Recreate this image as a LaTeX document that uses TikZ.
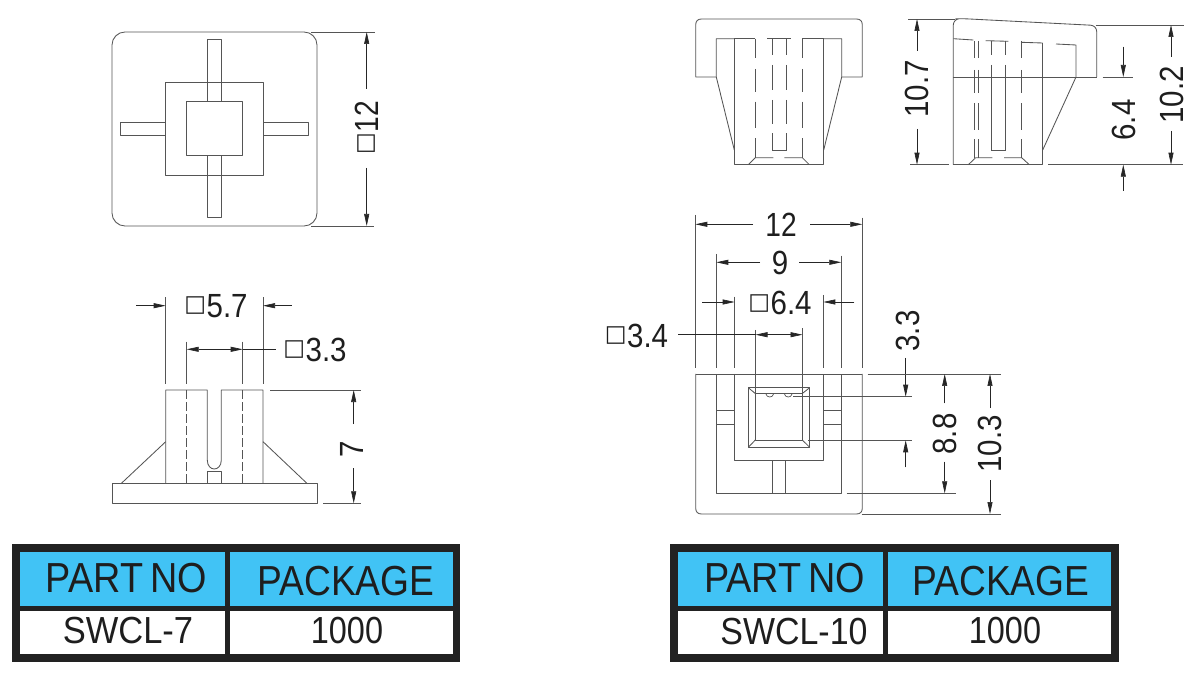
\documentclass[tikz,border=0pt]{standalone}
\usepackage{fontspec}
\usepackage{graphicx}
\usetikzlibrary{arrows.meta}
\setmainfont{Liberation Sans}
\newfontfamily\sqfont{DejaVu Sans}
\definecolor{partline}{HTML}{555555}
\definecolor{cellblue}{HTML}{41C3F5}
\definecolor{frameblk}{HTML}{222222}
\definecolor{inktext}{HTML}{1E1E1E}
\newcommand{\nar}[2]{\scalebox{#1}[1]{#2}}
\newcommand{\sqbox}{\raisebox{5.5pt}{\sqfont\fontsize{23}{23}\selectfont □}\kern 0.5pt}
\newcommand{\dimfs}{\fontsize{33.5}{34}\selectfont}
\newcommand{\hdfs}{\fontsize{42}{42}\selectfont}
\newcommand{\cellfs}{\fontsize{37.7}{38}\selectfont}
\tikzset{
  part/.style={draw=partline,line width=0.85pt,line join=round},
  thin part/.style={draw=partline,line width=0.7pt},
  dsh/.style={draw=partline,line width=0.8pt},
  ext/.style={draw=partline,line width=0.75pt},
  dimln/.style={draw=black!85,line width=0.65pt},
  dimar/.style={draw=black!85,line width=0.65pt,-{Stealth[length=12pt,width=5pt,inset=0pt]}},
  dimtxt/.style={text=inktext,inner sep=0pt,font=\dimfs},
  hdtxt/.style={text=inktext,inner sep=0pt,font=\hdfs},
  celltxt/.style={text=inktext,inner sep=0pt,font=\cellfs},
  frame/.style={fill=frameblk,draw=none},
  hdcell/.style={fill=cellblue,draw=none},
  wcell/.style={fill=white,draw=none}
}
\begin{document}
\begin{tikzpicture}[x=1pt,y=-1pt]
\useasboundingbox (0,0) rectangle (1200,676);
\fill[white] (0,0) rectangle (1200,676);

% ---------- Top view left
\draw[part,rounded corners=13pt] (112,32) rectangle (317,226);
\draw[part] (165.7,82.3) rectangle (263,175);
\draw[part] (186.7,101.7) rectangle (242.7,155.3);
\draw[part] (207.3,101.7) -- (207.3,39.7) -- (221.3,39.7) -- (221.3,101.7);
\draw[part] (207.3,155.3) -- (207.3,217.7) -- (221.3,217.7) -- (221.3,155.3);
\draw[part] (165.7,122.3) -- (120.3,122.3) -- (120.3,135.3) -- (165.7,135.3);
\draw[part] (263,122.3) -- (308,122.3) -- (308,135.3) -- (263,135.3);
\draw[ext] (311,32) -- (375,32);
\draw[ext] (311,226) -- (374,226);
\draw[dimar] (366.7,88.7) -- (366.7,32);
\draw[dimar] (366.7,168) -- (366.7,226);
\node[dimtxt,rotate=90] (dimA) at (366.5,127.5) {\sqbox\nar{0.84}{12}};

% ---------- Front view left
\draw[part] (112,483.7) rectangle (317,503.3);
\draw[part] (165.7,483.7) -- (165.7,390) -- (207.3,390) -- (207.3,460)
  .. controls (207.3,472) and (221.3,472) .. (221.3,460) -- (221.3,390) -- (263,390) -- (263,483.7);
\draw[part] (207.3,483.7) -- (207.3,471.3) -- (221.3,471.3) -- (221.3,483.7);
\draw[part] (165.7,441.7) -- (121,483.7);
\draw[part] (263,441.7) -- (307.3,483.7);
\draw[dsh,dash pattern=on 9pt off 3pt] (186.7,390) -- (186.7,483.7);
\draw[dsh,dash pattern=on 9pt off 3pt] (242.7,390) -- (242.7,483.7);
\draw[ext] (165.7,297.3) -- (165.7,384);
\draw[ext] (263,297.3) -- (263,384);
\draw[ext] (186.7,341.7) -- (186.7,384);
\draw[ext] (242.7,341.7) -- (242.7,384);
\draw[dimar] (136,305.7) -- (165.7,305.7);
\draw[dimar] (291.7,305.7) -- (263,305.7);
\node[dimtxt] (dimB) at (216,306) {\sqbox\nar{0.88}{5.7}};
\draw[dimln] (242.7,349.3) -- (276,349.3);
\draw[dimar] (215,349.3) -- (186.7,349.3);
\draw[dimar] (215,349.3) -- (242.7,349.3);
\node[dimtxt] (dimC) at (315,349.5) {\sqbox\nar{0.88}{3.3}};
\draw[ext] (270,390) -- (360.7,390);
\draw[ext] (323,503.3) -- (360.7,503.3);
\draw[dimar] (353.7,424) -- (353.7,390);
\draw[dimar] (353.7,468) -- (353.7,503.3);
\node[dimtxt,rotate=90] (dimD) at (352,449) {\nar{0.88}{7}};

% ---------- Front view right (top)
\draw[part] (716.3,77) -- (695.7,77) -- (695.7,25)
  .. controls (695.7,21) and (697.7,19) .. (701.7,19) -- (856.3,19)
  .. controls (860.3,19) and (862.3,21) .. (862.3,25) -- (862.3,77) -- (841.7,77);
\draw[part] (734.3,38.7) -- (716.3,38.7) -- (716.3,77) -- (734.3,150);
\draw[part] (823.7,38.7) -- (841.7,38.7) -- (841.7,77) -- (823.7,150);
\draw[part] (734.3,38.7) -- (755.3,38.7);
\draw[part] (802.3,38.7) -- (823.7,38.7);
\draw[part] (734.3,38.7) -- (734.3,164.7) -- (823.7,164.7) -- (823.7,38.7);
\draw[part] (767.3,38.7) -- (790.7,38.7);
\foreach \xx in {755.3,802.3}{
  \foreach \ya/\yb in {38.7/58.3,69/92.3,101.7/128.3,138.3/157.7}
    \draw[dsh] (\xx,\ya) -- (\xx,\yb);
}
\foreach \xx in {772,786}{
  \foreach \ya/\yb in {38.7/55,65/90,100/124,133.3/150.7}
    \draw[dsh] (\xx,\ya) -- (\xx,\yb);
}
\draw[part] (772,150.7) -- (786,150.7);
\draw[part] (748.3,164.7) -- (755.3,157.7) -- (773.3,157.7);
\draw[part] (784.3,157.7) -- (802.3,157.7) -- (809.3,164.7);
\draw[ext] (908.3,19) -- (955,19);
\draw[ext] (910,164.7) -- (949,164.7);
\draw[dimar] (917,51) -- (917,19);
\draw[dimar] (917,129) -- (917,164.7);
\node[dimtxt,rotate=90] (dimE) at (917,89) {\nar{0.88}{10.7}};

% ---------- Side view right (top)
\draw[part,rounded corners=6pt] (953.3,164.7) -- (953.3,19) -- (961.7,18.6) -- (1096.7,25.5) -- (1096.7,77);
\draw[part] (953.3,77) -- (1096.7,77);
\draw[part] (953.3,164.7) -- (1042.7,164.7) -- (1042.7,43);
\draw[part] (1042.7,150) -- (1076,77) -- (1076,45) -- (1056,44);
\draw[part] (953.3,38.7) -- (973.3,40);
\draw[part] (985.7,40.7) -- (1008.3,41.3);
\draw[part] (1021,42.3) -- (1042.7,43);
\foreach \xx in {974,978.3,1021.7}{
  \foreach \ya/\yb in {41/58.3,70/93.3,103.3/130,139.3/157.7}
    \draw[dsh] (\xx,\ya) -- (\xx,\yb);
}
\foreach \xx in {991,1005.3}{
  \draw[dsh] (\xx,40.7) -- (\xx,55);
  \draw[dsh] (\xx,65) -- (\xx,150.7);
}
\draw[part] (991,150.7) -- (1005.3,150.7);
\draw[part] (968.3,164.7) -- (975.7,157.7) -- (992.3,157.7);
\draw[part] (1004,157.7) -- (1021.7,157.7) -- (1029.3,164.7);
\draw[ext] (1095.7,25) -- (1184,25);
\draw[ext] (1048.3,164.7) -- (1183.3,164.7);
\draw[dimar] (1171,56.7) -- (1171,25);
\draw[dimar] (1171,131) -- (1171,164.7);
\node[dimtxt,rotate=90] (dimF) at (1171.7,95) {\nar{0.88}{10.2}};
\draw[ext] (1102.7,77) -- (1132.7,77);
\draw[dimar] (1123.3,46.7) -- (1123.3,77);
\draw[dimar] (1123.3,191) -- (1123.3,164.7);
\node[dimtxt,rotate=90] (dimG) at (1124,120) {\nar{0.88}{6.4}};

% ---------- Bottom view right
\draw[part] (695.7,374) -- (695.7,508)
  .. controls (695.7,512) and (697.7,514) .. (701.7,514) -- (856.3,514)
  .. controls (860.3,514) and (862.3,512) .. (862.3,508) -- (862.3,374);
\draw[part] (695.7,374) -- (862.3,374);
\draw[part] (716.3,374) -- (716.3,493.3) -- (841.7,493.3) -- (841.7,374);
\draw[part] (734.3,374) -- (734.3,460.3) -- (823.7,460.3) -- (823.7,374);
\draw[part] (716.3,410.7) -- (734.3,410.7);
\draw[part] (716.3,424) -- (734.3,424);
\draw[part] (823.7,410.7) -- (841.7,410.7);
\draw[part] (823.7,424) -- (841.7,424);
\draw[part] (772,460.3) -- (772,493.3);
\draw[part] (785.7,460.3) -- (785.7,493.3);
\draw[part] (748.3,387.7) rectangle (809.7,447.3);
\draw[part] (755.3,393.5) rectangle (802.3,440);
\draw[part] (748.3,387.7) -- (755.3,393.5);
\draw[part] (809.7,387.7) -- (802.3,393.5);
\draw[part] (748.3,447.3) -- (755.3,440);
\draw[part] (809.7,447.3) -- (802.3,440);
\draw[thin part] (766,394) .. controls (766.5,398) and (773,398) .. (773.5,394);
\draw[thin part] (784.5,394) .. controls (785,398) and (791.5,398) .. (792,394);
% extension lines of the upper dimensions
\draw[ext] (695.3,215) -- (695.3,368);
\draw[ext] (862.3,217.7) -- (862.3,368);
\draw[ext] (716.3,254) -- (716.3,368);
\draw[ext] (841.3,255.7) -- (841.3,368);
\draw[ext] (734.7,296.7) -- (734.7,368);
\draw[ext] (823.3,295) -- (823.3,368);
\draw[ext] (755.5,330) -- (755.5,393.5);
\draw[ext] (802.5,328.3) -- (802.5,393.5);
\draw[dimar] (753,224.3) -- (695.3,224.3);
\draw[dimar] (810,224.3) -- (862.3,224.3);
\node[dimtxt] (dimH) at (781,224.5) {\nar{0.84}{12}};
\draw[dimar] (760,262.3) -- (716.3,262.3);
\draw[dimar] (799.3,262.3) -- (841.3,262.3);
\node[dimtxt] (dimI) at (780,262.5) {\nar{0.88}{9}};
\draw[dimar] (702,302) -- (734.7,302);
\draw[dimar] (854.3,302) -- (823.3,302);
\node[dimtxt] (dimJ) at (780,303) {\sqbox\nar{0.88}{6.4}};
\draw[dimln] (678.3,334.7) -- (755.5,334.7);
\draw[dimar] (780,334.7) -- (755.5,334.7);
\draw[dimar] (780,334.7) -- (802.5,334.7);
\node[dimtxt] (dimK) at (636.5,335.5) {\sqbox\nar{0.88}{3.4}};
% right-hand dimensions
\draw[ext] (793,396.7) -- (911.7,396.7);
\draw[ext] (808,440.3) -- (911.7,440.3);
\draw[dimar] (905.7,358) -- (905.7,396.7);
\draw[dimar] (905.7,467.3) -- (905.7,440.3);
\node[dimtxt,rotate=90] (dimL) at (908,331) {\nar{0.88}{3.3}};
\draw[ext] (867.7,374) -- (1000.7,374);
\draw[ext] (846.7,493.3) -- (956,493.3);
\draw[ext] (861.7,514) -- (1001,514);
\draw[dimar] (944.7,403.3) -- (944.7,374);
\draw[dimar] (944.7,461.7) -- (944.7,493.3);
\node[dimtxt,rotate=90] (dimM) at (945,434) {\nar{0.88}{8.8}};
\draw[dimar] (990,408) -- (990,374);
\draw[dimar] (990,480) -- (990,514);
\node[dimtxt,rotate=90] (dimN) at (990,444) {\nar{0.88}{10.3}};

% ---------- Tables
\fill[frame] (12.3,544.3) rectangle (460.3,662.3);
\fill[hdcell] (19.7,552) rectangle (225,606.3);
\fill[hdcell] (230,552) rectangle (452.7,606.3);
\fill[wcell] (19.7,611) rectangle (225,654.3);
\fill[wcell] (230,611) rectangle (452.7,654.3);
\node[hdtxt] (t1a) at (126.3,578) {\nar{0.9}{PART\hspace{-4pt} NO}};
\node[hdtxt] (t1b) at (346,581) {\nar{0.885}{PACKAGE}};
\node[celltxt] (t1c) at (128,631) {\nar{0.915}{SWCL-7}};
\node[celltxt] (t1d) at (347,631) {\nar{0.86}{1000}};

\fill[frame] (670,544.3) rectangle (1118.7,662.3);
\fill[hdcell] (677.7,552) rectangle (883.3,606.3);
\fill[hdcell] (888.3,552) rectangle (1111.3,606.3);
\fill[wcell] (677.7,611) rectangle (883.3,654.3);
\fill[wcell] (888.3,611) rectangle (1111.3,654.3);
\node[hdtxt] (t2a) at (784.5,578) {\nar{0.9}{PART\hspace{-4pt} NO}};
\node[hdtxt] (t2b) at (1001,581) {\nar{0.885}{PACKAGE}};
\node[celltxt] (t2c) at (794,632) {\nar{0.9}{SWCL-10}};
\node[celltxt] (t2d) at (1005,631) {\nar{0.86}{1000}};
\end{tikzpicture}
\end{document}
